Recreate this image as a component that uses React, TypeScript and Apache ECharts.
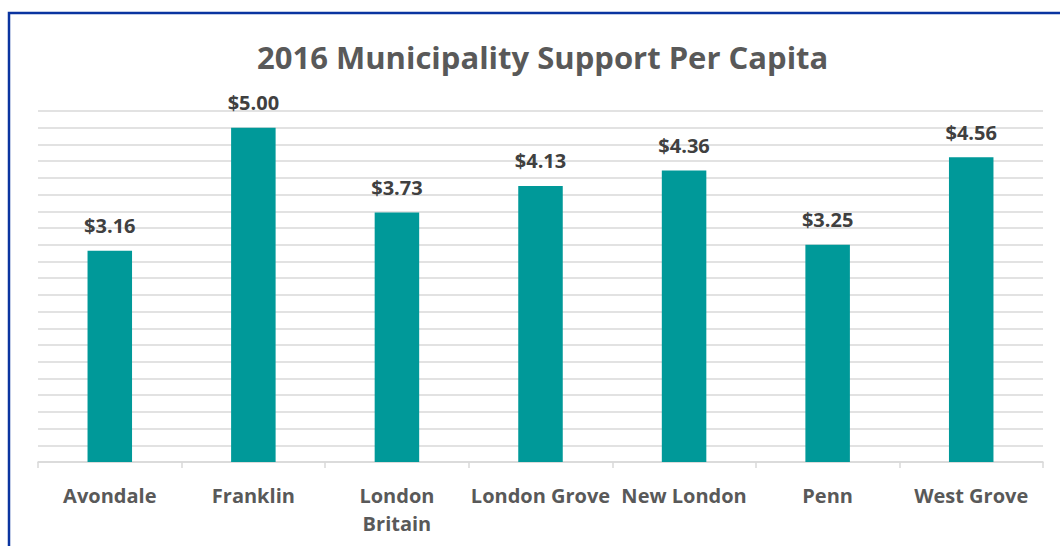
import React, { useEffect, useRef } from "react";
import * as echarts from "echarts";

const categories = ["Avondale", "Franklin", "London Britain", "London Grove", "New London", "Penn", "West Grove"];
const supportPerCapita = [3.16, 5.0, 3.73, 4.13, 4.36, 3.25, 4.56];
const titleText = "2016 Municipality Support Per Capita";

export default function App() {
  const ref = useRef<HTMLDivElement>(null);
  useEffect(() => {
    if (!ref.current) return;
    const chart = echarts.init(ref.current, undefined, { renderer: "svg" });
    chart.setOption({
      animation: false,
      backgroundColor: "#ffffff",
      title: {
        text: titleText,
        left: 252,
        top: 36,
        textStyle: { fontFamily: "Open Sans", fontWeight: "bold", fontSize: 31, color: "#595959" },
      },
      graphic: [
        {
          type: "rect",
          shape: { x: 9, y: 13, width: 1100, height: 600 },
          style: { fill: "none", stroke: "#0a34a0", lineWidth: 2.5 },
          silent: true,
        },
      ],
      grid: { left: 38, right: 17, top: 111, bottom: 84, containLabel: false },
      xAxis: {
        type: "category",
        data: categories,
        axisLine: { show: true, lineStyle: { color: "#d9d9d9", width: 1.5 } },
        axisTick: { show: true, alignWithLabel: false, length: 6, lineStyle: { color: "#d9d9d9", width: 1.5 } },
        axisLabel: {
          margin: 19,
          fontFamily: "Open Sans",
          fontWeight: "bold",
          fontSize: 20,
          lineHeight: 28,
          color: "#595959",
          interval: 0,
          formatter: (v: string) => (v === "London Britain" ? "London\nBritain" : v),
        },
      },
      yAxis: {
        type: "value",
        min: 0,
        max: 5.25,
        interval: 0.25,
        axisLine: { show: false },
        axisTick: { show: false },
        axisLabel: { show: false },
        splitLine: { show: true, lineStyle: { color: "#d9d9d9", width: 1.5 } },
      },
      series: [
        {
          type: "bar",
          data: supportPerCapita,
          barWidth: "31%",
          itemStyle: { color: "#009999" },
          label: {
            show: true,
            position: "top",
            distance: 15,
            fontFamily: "Open Sans",
            fontWeight: "bold",
            fontSize: 20,
            color: "#404040",
            formatter: (p: any) => "$" + Number(p.value).toFixed(2),
          },
        },
      ],
    });
    return () => chart.dispose();
  }, []);
  return (
    <div
      ref={ref}
      style={{ position: "fixed", left: 0, top: 0, width: 1060, height: 546 }}
    />
  );
}
